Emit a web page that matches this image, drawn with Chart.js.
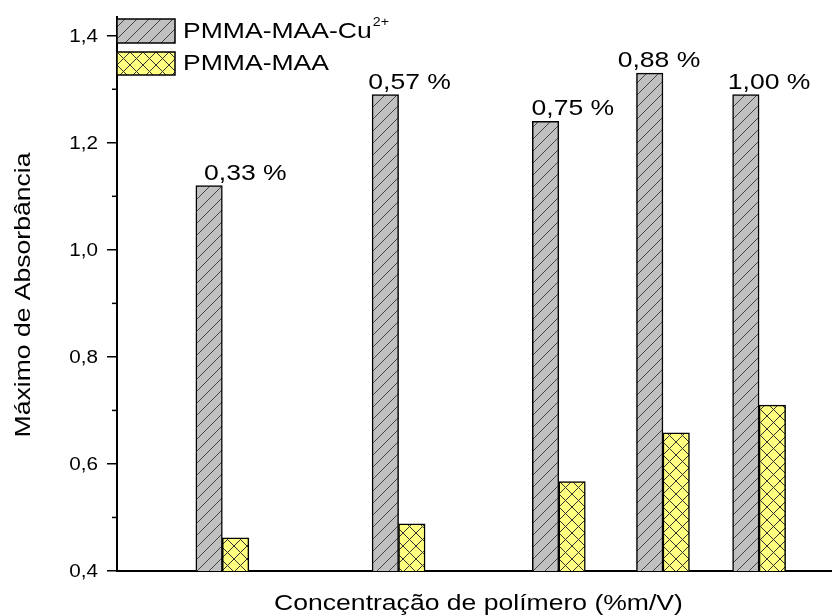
<!DOCTYPE html>
<html>
<head>
<meta charset="utf-8">
<title>Máximo de Absorbância</title>
<script src="https://cdn.jsdelivr.net/npm/chart.js@4.4.0/dist/chart.umd.min.js"></script>
<style>
    html, body { margin: 0; padding: 0; background: #fff; }
    #chartBox { width: 832px; height: 615px; }
</style>
</head>
<body>
<div id="chartBox"><canvas id="absChart" width="832" height="615"></canvas></div>
<script>
// Data
const concLabels = ['0,33 %', '0,57 %', '0,75 %', '0,88 %', '1,00 %'];
const xPos = [0.33, 0.55, 0.75, 0.88, 1.00];          // where each bar pair sits on the x axis
const cuValues = [1.12, 1.29, 1.24, 1.33, 1.29];       // PMMA-MAA-Cu2+
const maaValues = [0.462, 0.488, 0.567, 0.658, 0.710]; // PMMA-MAA
const yMajorTicks = [0.4, 0.6, 0.8, 1.0, 1.2, 1.4];
const seriesNames = ['PMMA-MAA-Cu', 'PMMA-MAA'];
const seriesSup = ['2+', ''];

// Text in the original is Arial drawn a bit wide
const FONT = '"Liberation Sans", Arial, sans-serif';
const STRETCH = 1.18;

const canvas = document.getElementById('absChart');
const mainCtx = canvas.getContext('2d');

// hatch fills: '/' on grey, 'x' on yellow
function makeHatch(bg, cross) {
    const size = cross ? 13 : 12;
    const c = document.createElement('canvas');
    c.width = size;
    c.height = size;
    const g = c.getContext('2d');
    g.fillStyle = bg;
    g.fillRect(0, 0, size, size);
    g.strokeStyle = cross ? '#333' : '#444';
    g.lineWidth = 1;
    g.beginPath();
    g.moveTo(-1, size + 1);
    g.lineTo(size + 1, -1);
    if (cross) {
        g.moveTo(-1, -1);
        g.lineTo(size + 1, size + 1);
    }
    g.stroke();
    return mainCtx.createPattern(c, 'repeat');
}

const greyHatch = makeHatch('#c0c0c0', false);
const yellowHatch = makeHatch('#ffff80', true);
const fills = [greyHatch, yellowHatch];

function fmt(v) {
    return v.toFixed(1).replace('.', ',');
}

function isMajor(v) {
    return yMajorTicks.some(t => Math.abs(t - v) < 1e-6);
}

// draw text stretched along its baseline
function wideText(ctx, text, x, y, size, align, baseline, angle) {
    ctx.save();
    ctx.translate(x, y);
    if (angle) ctx.rotate(angle);
    ctx.scale(STRETCH, 1);
    ctx.font = size + 'px ' + FONT;
    ctx.fillStyle = '#000';
    ctx.textAlign = align;
    ctx.textBaseline = baseline;
    ctx.fillText(text, 0, 0);
    const w = ctx.measureText(text).width * STRETCH;
    ctx.restore();
    return w;
}

const labelNudge = [23, 11, 14, -4, 10]; // label offsets as placed in the original

const decorPlugin = {
    id: 'decor',
    afterDraw(chart) {
        const ctx = chart.ctx;
        const area = chart.chartArea;
        const yScale = chart.scales.y;

        // minor ticks + tick labels on y
        ctx.save();
        ctx.strokeStyle = '#000';
        ctx.lineWidth = 1.5;
        yScale.ticks.forEach(t => {
            const py = yScale.getPixelForValue(t.value);
            if (isMajor(t.value)) {
                wideText(ctx, fmt(t.value), area.left - 19, py + 1, 17.5, 'right', 'middle');
            } else {
                ctx.beginPath();
                ctx.moveTo(area.left - 5, py);
                ctx.lineTo(area.left, py);
                ctx.stroke();
            }
        });
        ctx.restore();

        // value labels over the grey bars
        const meta = chart.getDatasetMeta(0);
        meta.data.forEach((el, i) => {
            const cx = el.x + el.width / 2 + labelNudge[i];
            wideText(ctx, concLabels[i], cx, el.y - 6, 22.5, 'center', 'alphabetic');
        });

        // legend, top left over the axis
        const boxes = [{ y: 19, h: 24 }, { y: 52, h: 23 }];
        boxes.forEach((b, i) => {
            ctx.save();
            ctx.fillStyle = fills[i];
            ctx.fillRect(area.left, b.y, 58, b.h);
            ctx.strokeStyle = '#000';
            ctx.lineWidth = 1.5;
            ctx.strokeRect(area.left, b.y, 58, b.h);
            ctx.restore();
            const base = b.y + b.h - 5;
            const w = wideText(ctx, seriesNames[i], area.left + 66, base, 22.5, 'left', 'alphabetic');
            if (seriesSup[i]) {
                wideText(ctx, seriesSup[i], area.left + 66 + w + 1, base - 12, 12, 'left', 'alphabetic');
            }
        });

        // axis titles
        wideText(ctx, 'Concentração de polímero (%m/V)', (area.left + area.right) / 2 + 4, 610, 22.5, 'center', 'alphabetic');
        wideText(ctx, 'Máximo de Absorbância', 30, (area.top + area.bottom) / 2 + 1, 22.5, 'center', 'alphabetic', -Math.PI / 2);
    }
};

function initChart() {
    new Chart(canvas, {
        type: 'bar',
        data: {
            datasets: [{
                label: seriesNames[0],
                data: xPos.map((x, i) => ({ x: x, y: cuValues[i] })),
                backgroundColor: greyHatch,
                borderColor: '#000',
                borderWidth: 1.5
            }, {
                label: seriesNames[1],
                data: xPos.map((x, i) => ({ x: x, y: maaValues[i] })),
                backgroundColor: yellowHatch,
                borderColor: '#000',
                borderWidth: 1.5
            }]
        },
        options: {
            responsive: false,
            animation: false,
            layout: { padding: { top: 17, right: 0, bottom: 0, left: 0 } },
            datasets: { bar: { barThickness: 26.5, grouped: true } },
            plugins: {
                legend: { display: false },
                tooltip: { enabled: false }
            },
            scales: {
                x: {
                    type: 'linear',
                    min: 0.1985,
                    max: 1.091,
                    offset: false,
                    grid: { display: false },
                    ticks: { display: false },
                    border: { color: '#000', width: 2 },
                    afterFit: s => { s.height = 44; }
                },
                y: {
                    min: 0.4,
                    max: 1.435,
                    beginAtZero: false,
                    grid: {
                        drawOnChartArea: false,
                        drawTicks: true,
                        tickLength: 10,
                        lineWidth: 1.5,
                        tickColor: c => (c.tick && isMajor(c.tick.value)) ? '#000' : 'rgba(0,0,0,0)'
                    },
                    ticks: {
                        stepSize: 0.1,
                        includeBounds: false,
                        color: 'rgba(0,0,0,0)',
                        font: { size: 17 },
                        callback: v => fmt(v)
                    },
                    border: { color: '#000', width: 2 },
                    afterFit: s => { s.width = 117; }
                }
            }
        },
        plugins: [decorPlugin]
    });
}

initChart();
</script>
</body>
</html>
